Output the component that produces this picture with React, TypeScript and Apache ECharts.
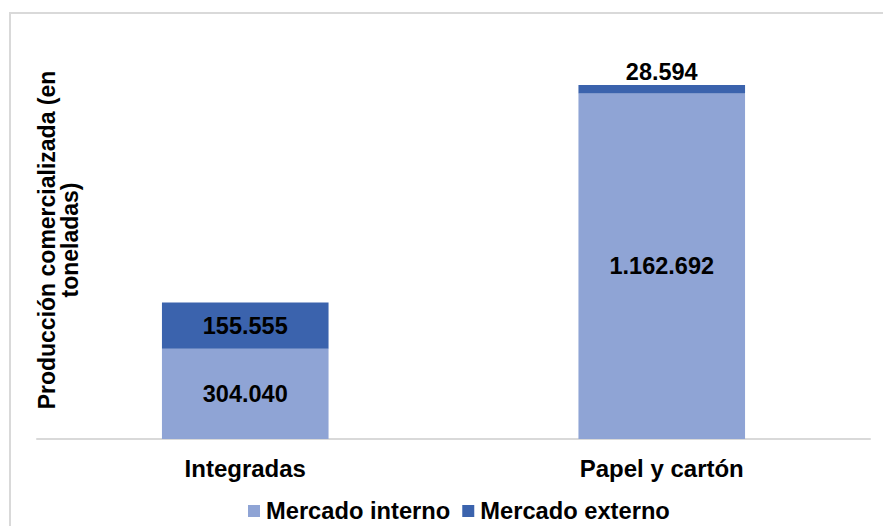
import React, { useEffect, useRef } from "react";
import * as echarts from "echarts";

const categories = ["Integradas", "Papel y cartón"];
const internalValues = [304040, 1162692];
const externalValues = [155555, 28594];
const seriesNames = ["Mercado interno", "Mercado externo"];
const yTitle = "Producción comercializada (en\ntoneladas)";

const FONT = 'Arial, "Liberation Sans", sans-serif';

function fmt(v: number): string {
  return String(Math.round(v)).replace(/\B(?=(\d{3})+(?!\d))/g, ".");
}

export default function App() {
  const ref = useRef<HTMLDivElement>(null);
  useEffect(() => {
    if (!ref.current) return;
    const chart = echarts.init(ref.current, null, { renderer: "svg" });
    chart.setOption({
      animation: false,
      backgroundColor: "#ffffff",
      textStyle: { fontFamily: FONT },
      grid: { left: 37, right: 13, top: 23, bottom: 87, containLabel: false },
      legend: {
        left: 248,
        top: 499,
        icon: "rect",
        itemWidth: 12,
        itemHeight: 12,
        itemGap: 12,
        padding: 0,
        textStyle: {
          fontFamily: FONT,
          fontSize: 23.7,
          fontWeight: "bold",
          color: "#000",
          lineHeight: 24,
          padding: [0, 0, 0, 1],
        },
        data: seriesNames,
      },
      xAxis: {
        type: "category",
        data: categories,
        axisLine: { show: true, lineStyle: { color: "#d9d9d9", width: 2 } },
        axisTick: { show: false },
        axisLabel: { fontFamily: FONT, fontSize: 24, fontWeight: "bold", color: "#000", margin: 17 },
      },
      yAxis: {
        type: "value",
        min: 0,
        max: 1400000,
        show: false,
        splitLine: { show: false },
      },
      graphic: [
        {
          type: "rect",
          shape: { x: 10, y: 13, width: 900, height: 600 },
          style: { fill: "none", stroke: "#d9d9d9", lineWidth: 2 },
          silent: true,
        },
        {
          type: "text",
          x: 58,
          y: 240,
          rotation: Math.PI / 2,
          style: {
            text: yTitle,
            fontFamily: FONT,
            fontSize: 23,
            fontWeight: "bold",
            fill: "#000",
            align: "center",
            verticalAlign: "middle",
            lineHeight: 23,
          },
        },
      ],
      series: [
        {
          name: seriesNames[0],
          type: "bar",
          stack: "total",
          barWidth: "40%",
          data: internalValues,
          itemStyle: { color: "#8FA4D5" },
          label: {
            show: true,
            position: "inside",
            fontFamily: FONT,
            fontSize: 23.5,
            fontWeight: "bold",
            color: "#000",
            formatter: (p: any) => fmt(p.value),
          },
        },
        {
          name: seriesNames[1],
          type: "bar",
          stack: "total",
          barWidth: "40%",
          data: externalValues.map((v, i) => ({
            value: v,
            label: i === 1 ? { position: "top", distance: 1 } : { position: "inside" },
          })),
          itemStyle: { color: "#3B63AD" },
          label: {
            show: true,
            fontFamily: FONT,
            fontSize: 23.5,
            fontWeight: "bold",
            color: "#000",
            formatter: (p: any) => fmt(p.value),
          },
        },
      ],
    });
    return () => chart.dispose();
  }, []);
  return (
    <div
      ref={ref}
      style={{ position: "fixed", left: 0, top: 0, width: 883, height: 526, background: "#fff" }}
    />
  );
}
